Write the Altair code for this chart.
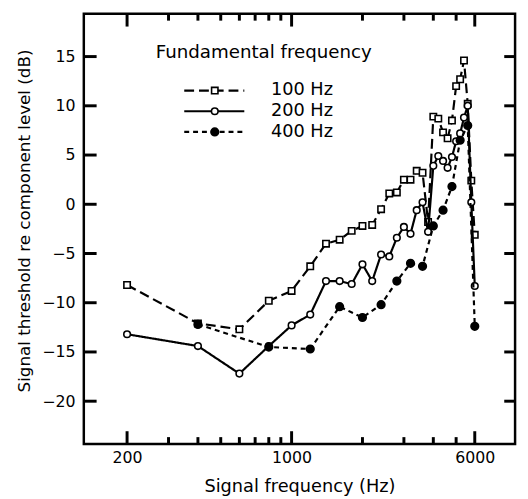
import math
import altair as alt
import pandas as pd

# ---------------- data ----------------
freq_100 = [200, 400, 600, 800, 1000, 1200, 1400, 1600, 1800, 2000, 2200, 2400, 2600, 2800,
            3000, 3200, 3400, 3600, 3800, 4000, 4200, 4400, 4600, 4800, 5000, 5200, 5400,
            5600, 5800, 6000]
thr_100 = [-8.2, -12.1, -12.7, -9.8, -8.8, -6.3, -4.0, -3.6, -2.7, -2.2, -2.1, -0.5, 1.1, 1.2,
           2.5, 2.5, 3.4, 3.2, -1.8, 8.9, 8.7, 7.3, 6.7, 8.5, 12.0, 12.7, 14.6,
           10.2, 2.4, -3.1]

freq_200 = [200, 400, 600, 800, 1000, 1200, 1400, 1600, 1800, 2000, 2200, 2400, 2600, 2800,
            3000, 3200, 3400, 3600, 3800, 4000, 4200, 4400, 4600, 4800, 5000, 5200, 5400,
            5600, 5800, 6000]
thr_200 = [-13.2, -14.4, -17.2, -14.4, -12.3, -11.2, -7.8, -7.8, -8.1, -6.1, -7.8, -5.1, -5.3, -3.4,
           -2.3, -3.0, -0.6, 0.2, -2.8, 3.9, 4.9, 4.4, 3.7, 4.8, 6.4, 7.2, 8.8,
           10.0, 0.2, -8.3]

freq_400 = [400, 800, 1200, 1600, 2000, 2400, 2800, 3200, 3600, 4000, 4400, 4800, 5200, 5600, 6000]
thr_400 = [-12.2, -14.5, -14.7, -10.4, -11.5, -10.2, -7.8, -6.0, -6.3, -2.2, -0.6, 1.8, 6.5, 8.0, -12.4]

x_labels = [200, 1000, 6000]
x_minor = [300, 400, 500, 600, 700, 800, 900, 2000, 3000, 4000, 5000]
y_labels = [-20, -15, -10, -5, 0, 5, 10, 15]

legend_title = "Fundamental frequency"
legend_names = ["100 Hz", "200 Hz", "400 Hz"]

# ---------------- layout ----------------
W, H = 438, 437
FONT = "DejaVu Sans"
X_DOM = [131, 8900]
Y_DOM = [-24.35, 19.35]

xscale = alt.Scale(type="log", domain=X_DOM, nice=False)
yscale = alt.Scale(domain=Y_DOM, nice=False, zero=False)


# same mapping as the scales above (used only for the frame's inward tick marks)
def sx(f):
    return W * math.log10(f / X_DOM[0]) / math.log10(X_DOM[1] / X_DOM[0])


def sy(v):
    return H * (Y_DOM[1] - v) / (Y_DOM[1] - Y_DOM[0])


x_axis = alt.Axis(values=x_labels, format="d", ticks=False, domain=False, grid=False,
                  labelFontSize=16, labelFont=FONT, labelColor="black", labelPadding=6,
                  labelFlush=False, title="Signal frequency (Hz)", titleFont=FONT,
                  titleFontSize=18, titleFontWeight="normal", titleColor="black",
                  titleX=W / 2, titleY=48, titleBaseline="alphabetic")
y_axis = alt.Axis(values=y_labels, ticks=False, domain=False, grid=False,
                  labelFontSize=16, labelFont=FONT, labelColor="black", labelPadding=9,
                  title="Signal threshold re component level (dB)", titleFont=FONT,
                  titleFontSize=17, titleFontWeight="normal", titleColor="black",
                  titleX=-60, titleY=210, titleBaseline="middle", titleAlign="center")

X = alt.X("f:Q", scale=xscale, axis=x_axis)
Y = alt.Y("db:Q", scale=yscale, axis=y_axis)

one = pd.DataFrame({"k": [0]})
layers = []

# inward ticks on all four sides
for f in x_labels + x_minor:
    L = 13 if f in x_labels else 7
    px = sx(f)
    layers.append(alt.Chart(one).mark_rule(color="black", strokeWidth=3)
                  .encode(x=alt.value(px), y=alt.value(H), y2=alt.value(H - L)))
    layers.append(alt.Chart(one).mark_rule(color="black", strokeWidth=3)
                  .encode(x=alt.value(px), y=alt.value(0), y2=alt.value(L)))
for v in y_labels:
    py = sy(v)
    layers.append(alt.Chart(one).mark_rule(color="black", strokeWidth=3)
                  .encode(y=alt.value(py), x=alt.value(0), x2=alt.value(13)))
    layers.append(alt.Chart(one).mark_rule(color="black", strokeWidth=3)
                  .encode(y=alt.value(py), x=alt.value(W), x2=alt.value(W - 11)))


def series(freqs, thr, dash, shape, fill, size):
    df = pd.DataFrame({"f": freqs, "db": thr})
    base = alt.Chart(df).encode(x=X, y=Y)
    line = base.mark_line(color="black", strokeWidth=2.2, strokeDash=dash)
    pts = base.mark_point(shape=shape, filled=True, fill=fill, stroke="black",
                          strokeWidth=1.6, size=size, opacity=1)
    return [line, pts]


layers += series(freq_100, thr_100, [10, 5], "square", "white", 42)
layers += series(freq_200, thr_200, [1, 0], "circle", "white", 45)
layers += series(freq_400, thr_400, [5, 4], "circle", "black", 60)

# manual legend
layers.append(alt.Chart(one).mark_text(align="left", baseline="alphabetic", font=FONT,
                                       fontSize=18.5, color="black")
              .encode(x=alt.value(73), y=alt.value(45), text=alt.value(legend_title)))
leg_styles = [([10, 5], "square", "white", 42), ([1, 0], "circle", "white", 45),
              ([5, 4], "circle", "black", 60)]
row_y = [78, 99, 120]
for name, (dash, shape, fill, size), ry in zip(legend_names, leg_styles, row_y):
    layers.append(alt.Chart(one).mark_rule(color="black", strokeWidth=2.2, strokeDash=dash)
                  .encode(x=alt.value(102), x2=alt.value(163), y=alt.value(ry)))
    layers.append(alt.Chart(one).mark_point(shape=shape, filled=True, fill=fill, stroke="black",
                                            strokeWidth=1.6, size=size, opacity=1)
                  .encode(x=alt.value(133), y=alt.value(ry)))
    layers.append(alt.Chart(one).mark_text(align="left", baseline="middle", font=FONT,
                                           fontSize=18, color="black")
                  .encode(x=alt.value(190), y=alt.value(ry), text=alt.value(name)))

chart = (alt.layer(*layers)
         .properties(width=W, height=H, background="white",
                     padding={"left": 77, "top": 2, "right": 5, "bottom": 52},
                     autosize=alt.AutoSizeParams(type="none"))
         .configure_view(stroke="black", strokeWidth=2.5))

chart.save("out.html", embed_options={"renderer": "svg", "actions": False})
